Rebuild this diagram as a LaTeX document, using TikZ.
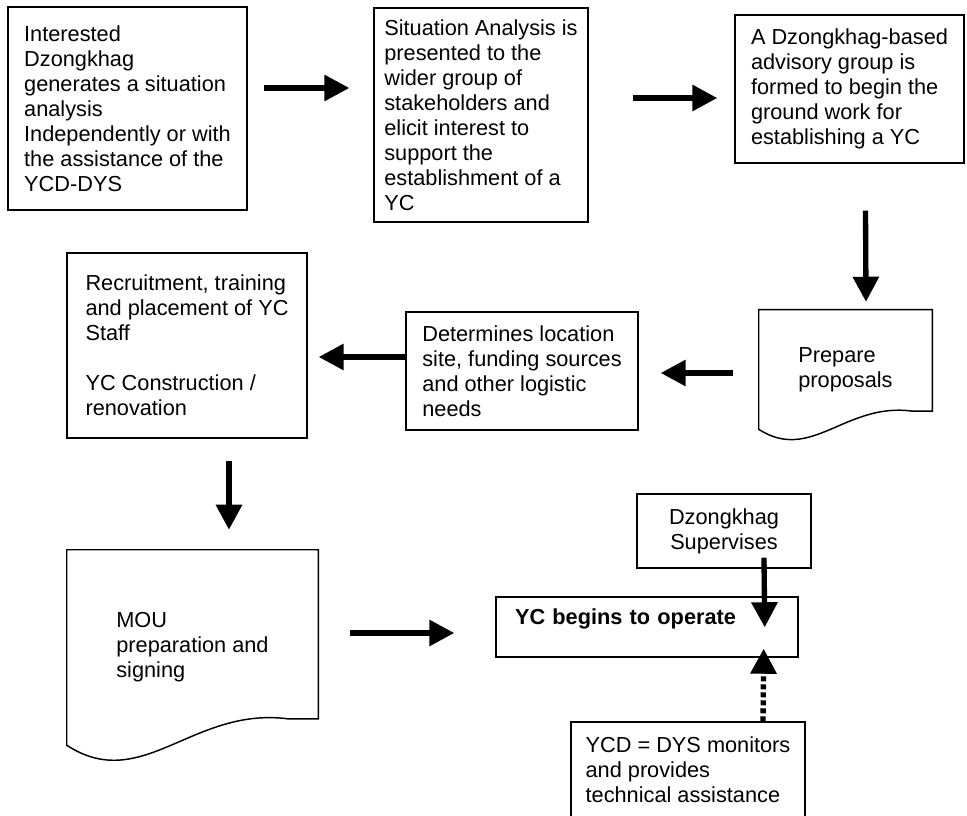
\documentclass[tikz,border=0pt]{standalone}
\usepackage{fontspec}
\setmainfont{Liberation Sans}
\usepackage{tikz}
\usetikzlibrary{arrows.meta, positioning, calc}
\tikzset{
  % Flow boxes
  stepbox/.style={rectangle, draw=black, line width=1.1pt, align=left, inner sep=0pt, font=\fontsize{16.3}{18.7}\selectfont},
  docbox/.style={rectangle, align=left, inner sep=0pt, font=\fontsize{16.3}{18.7}\selectfont},
  docline/.style={draw=black, line width=1.1pt},
  % Connectors
  arrow/.style={-{Triangle[length=18.75pt, width=19pt]}, line width=4pt},
  dotarrow/.style={arrow, dash pattern=on 3.75pt off 2.25pt},
}
% page outline with wavy bottom, drawn round a named node (south west = left end of the wave)
\newcommand{\docoutline}[1]{%
  \draw[docline] let \p1=(#1.south west), \p2=(#1.south east), \n1={\x2-\x1} in
    (\x2,\y2+0.105*\n1) -- (#1.north east) -- (#1.north west) -- (#1.south west)
    .. controls (\x1+0.3*\n1,\y1-0.195*\n1) and (\x1+0.5*\n1,\y1+0.155*\n1) .. (\x2-0.12*\n1,\y2+0.105*\n1)
    -- cycle;}

\begin{document}
\begin{tikzpicture}[x=0.75pt, y=-0.75pt]
    \useasboundingbox (0,0) rectangle (967,816);
    \clip (0,0) rectangle (967,816);

    % Top row
    \node[stepbox, minimum width=179.25pt, minimum height=152.25pt] (b1) at (127.5,108.5)
      {Interested\\Dzongkhag\\generates a situation\\analysis\\Independently or with\\the assistance of the\\YCD-DYS};
    \node[stepbox, minimum width=160.5pt, minimum height=160.5pt] (b2) at (481,115)
      {Situation Analysis is\\presented to the\\wider group of\\stakeholders and\\elicit interest to\\support the\\establishment of a\\YC};
    \node[stepbox, minimum width=171.75pt, minimum height=111pt] (b3) at (849.5,89)
      {A Dzongkhag-based\\advisory group is\\formed to begin the\\ground work for\\establishing a YC};

    % Middle row
    \node[docbox, minimum width=129.75pt, minimum height=89.25pt] (b4) at (845.5,369.5) {Prepare\\proposals};
    \docoutline{b4}
    \node[stepbox, minimum width=174pt, minimum height=88.5pt] (b5) at (522,371)
      {Determines location\\site, funding sources\\and other logistic\\needs};
    \node[stepbox, minimum width=180pt, minimum height=138.75pt] (b6) at (187,345.5)
      {Recruitment, training\\and placement of YC\\Staff\\[18.7pt]YC Construction /\\renovation};

    % Bottom row
    \node[docbox, minimum width=188.25pt, minimum height=146.25pt] (b7) at (192.5,647.5) {MOU\\preparation and\\signing};
    \docoutline{b7}
    \node[stepbox, minimum width=226.5pt, minimum height=45pt, inner xsep=14.25pt, text width=198pt, text depth=16pt] (b8) at (647,627)
      {\textbf{YC begins to operate}};
    \node[stepbox, align=center, minimum width=130.5pt, minimum height=55.5pt] (b9) at (724,531)
      {Dzongkhag\\Supervises};
    \node[stepbox, minimum width=175.5pt, minimum height=72pt] (b10) at (688,770)
      {YCD = DYS monitors\\and provides\\technical assistance};

    % Arrows
    \draw[arrow] ($(b1.east)+(16,-20.5)$) -- ($(b2.west)+(-24,-27)$);
    \draw[arrow] ($(b2.east)+(44,-17)$) -- ($(b3.west)+(-17,9)$);
    \draw[arrow] ($(b3.south)+(16,47)$) -- ($(b4.north)+(20.5,-8)$);
    \draw[arrow] ($(b4.west)+(-26,3.5)$) -- ($(b5.east)+(22,2)$);
    \draw[arrow] ($(b5.west)+(0,-14)$) -- ($(b6.east)+(11,11.5)$);
    \draw[arrow] ($(b6.south)+(42,22)$) -- ($(b7.north)+(36.5,-20)$);
    \draw[arrow] ($(b7.east)+(32,-14.5)$) -- ($(b8.west)+(-41,6)$);
    \draw[arrow] ($(b9.south)+(40,-11)$) -- ($(b8.north east)+(-34,31)$);
    \draw[dotarrow] ($(b10.north)+(75,0)$) -- ($(b8.south east)+(-35,-9)$);
\end{tikzpicture}
\end{document}
